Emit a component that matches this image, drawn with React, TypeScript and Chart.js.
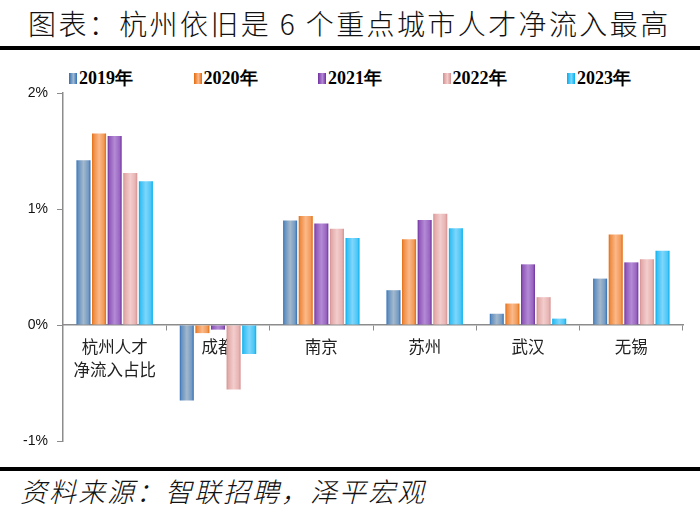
import React, { useEffect, useRef } from "react";
import { Chart, registerables } from "chart.js";

Chart.register(...registerables);

const categories: (string | string[])[] = [["杭州人才", "净流入占比"], "成都", "南京", "苏州", "武汉", "无锡"];
const seriesNames = ["2019年", "2020年", "2021年", "2022年", "2023年"];
const v2019 = [1.42, -0.65, 0.9, 0.3, 0.097, 0.4];
const v2020 = [1.65, -0.07, 0.94, 0.74, 0.185, 0.78];
const v2021 = [1.63, -0.04, 0.875, 0.905, 0.523, 0.54];
const v2022 = [1.31, -0.555, 0.83, 0.96, 0.24, 0.566];
const v2023 = [1.24, -0.25, 0.75, 0.835, 0.055, 0.64];
const seriesValues = [v2019, v2020, v2021, v2022, v2023];
const yTicks = [-1, 0, 1, 2];

const edgeColors = ["#2e6fb7", "#e3690b", "#7030a0", "#d48f8f", "#00aeef"];
const midColors = ["#a3b8cc", "#fbb98a", "#b48ad6", "#f3cdcc", "#7ed6fb"];

function mix(a: string, b: string, t: number) {
  const pa = [1, 3, 5].map((i) => parseInt(a.slice(i, i + 2), 16));
  const pb = [1, 3, 5].map((i) => parseInt(b.slice(i, i + 2), 16));
  const c = pa.map((v, i) => Math.round(v + (pb[i] - v) * t));
  return `rgb(${c[0]},${c[1]},${c[2]})`;
}

function makeGradient(ctx: CanvasRenderingContext2D, x0: number, x1: number, i: number) {
  const g = ctx.createLinearGradient(x0, 0, x1, 0);
  const e = edgeColors[i];
  const m = midColors[i];
  g.addColorStop(0, e);
  g.addColorStop(0.12, mix(e, m, 0.45));
  g.addColorStop(0.5, m);
  g.addColorStop(0.85, mix(e, m, 0.6));
  g.addColorStop(1, e);
  return g;
}

const gradientPlugin = {
  id: "barGradient",
  beforeDatasetsDraw(chart: any) {
    const ctx = chart.ctx;
    chart.data.datasets.forEach((_ds: any, i: number) => {
      const meta = chart.getDatasetMeta(i);
      meta.data.forEach((bar: any) => {
        const { x, width } = bar.getProps(["x", "width"], true);
        const g = makeGradient(ctx, x - width / 2, x + width / 2, i);
        bar.options = { ...bar.options, backgroundColor: g };
      });
    });
  },
};

function LegendBox({ i }: { i: number }) {
  const e = edgeColors[i];
  const m = midColors[i];
  return (
    <span
      style={{
        display: "inline-block",
        width: 8,
        height: 11,
        marginRight: 2,
        background: `linear-gradient(to right, ${e}, ${m} 55%, ${e})`,
      }}
    />
  );
}

export default function App() {
  const canvasRef = useRef<HTMLCanvasElement | null>(null);

  useEffect(() => {
    document.body.style.margin = "0";
    const canvas = canvasRef.current;
    if (!canvas) return;
    const chart = new Chart(canvas, {
      type: "bar",
      data: {
        labels: categories,
        datasets: seriesValues.map((vals, i) => ({
          label: seriesNames[i],
          data: vals,
          backgroundColor: midColors[i],
          borderWidth: 0,
          categoryPercentage: 0.755,
          barPercentage: 0.9,
        })),
      },
      options: {
        responsive: false,
        animation: false,
        devicePixelRatio: 1,
        layout: { padding: { left: 0, right: 17, top: 43, bottom: 24 } },
        plugins: {
          legend: { display: false },
          tooltip: { enabled: false },
        },
        scales: {
          x: {
            position: { y: 0 } as any,
            z: 1,
            grid: {
              display: true,
              drawOnChartArea: false,
              drawTicks: true,
              tickLength: 5,
              color: "#8c8c8c",
              offset: true,
            },
            border: { display: true, color: "#8c8c8c", width: 1.5 },
            ticks: {
              color: "#222",
              font: { family: "'Noto Sans CJK SC'", size: 16.5, lineHeight: 1.4 },
              padding: 5,
              maxRotation: 0,
              autoSkip: false,
            },
          },
          y: {
            min: -1,
            max: 2,
            afterFit: (scale: any) => {
              scale.width = 63;
            },
            afterBuildTicks: (scale: any) => {
              scale.ticks = yTicks.map((v) => ({ value: v }));
            },
            grid: {
              display: true,
              drawOnChartArea: false,
              drawTicks: true,
              tickLength: 6,
              color: "#8c8c8c",
            },
            border: { display: true, color: "#8c8c8c", width: 1.5 },
            ticks: {
              color: "#111",
              font: { family: "'Liberation Sans'", size: 14 },
              padding: 9,
              callback: (v: any) => `${v}%`,
            },
          },
        },
      },
      plugins: [gradientPlugin],
    });
    return () => chart.destroy();
  }, []);

  return (
    <div
      style={{
        position: "fixed",
        left: 0,
        top: 0,
        width: 700,
        height: 519,
        background: "#fff",
        overflow: "hidden",
      }}
    >
      <div
        style={{
          position: "absolute",
          left: 28,
          top: 7,
          fontFamily: "'Noto Sans CJK SC'",
          fontWeight: 300,
          fontSize: 28,
          lineHeight: "32px",
          letterSpacing: 2.4,
          color: "#111",
          whiteSpace: "pre",
        }}
      >
        图表：杭州依旧是 6 个重点城市人才净流入最高
      </div>
      <div style={{ position: "absolute", left: 0, top: 46, width: 700, height: 4, background: "#000" }} />
      <div
        style={{
          position: "absolute",
          left: 69,
          top: 67,
          display: "flex",
          fontFamily: "'Liberation Serif'",
          fontWeight: 700,
          fontSize: 18,
          lineHeight: "22px",
          color: "#000",
        }}
      >
        {seriesNames.map((n, i) => (
          <div key={n} style={{ width: 124.5, display: "flex", alignItems: "center" }}>
            <LegendBox i={i} />
            <span>{n}</span>
          </div>
        ))}
      </div>
      <div style={{ position: "absolute", left: 0, top: 50, width: 700, height: 415 }}>
        <canvas ref={canvasRef} width={700} height={415} style={{ width: 700, height: 415, display: "block" }} />
      </div>
      <div style={{ position: "absolute", left: 0, top: 467, width: 700, height: 4, background: "#000" }} />
      <div
        style={{
          position: "absolute",
          left: 20,
          top: 475,
          fontFamily: "'Noto Sans CJK SC'",
          fontWeight: 300,
          fontStyle: "italic",
          fontSize: 27,
          lineHeight: "32px",
          letterSpacing: 2,
          color: "#111",
          whiteSpace: "pre",
        }}
      >
        资料来源：智联招聘，泽平宏观
      </div>
    </div>
  );
}
